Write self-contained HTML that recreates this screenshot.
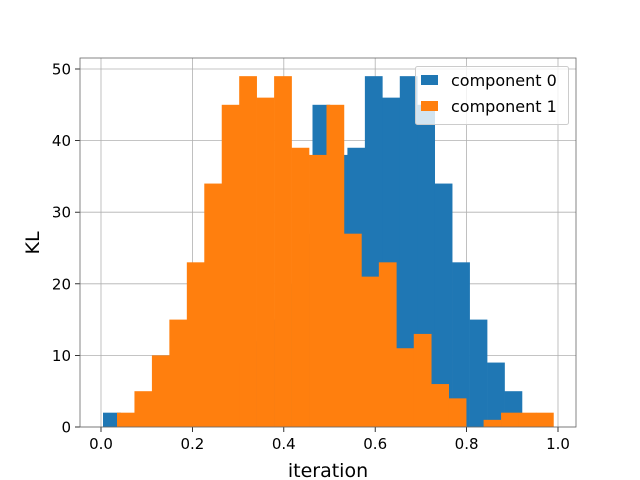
<!DOCTYPE html>
<html><head><meta charset="utf-8"><style>
body{margin:0;background:#fff}
svg{display:block;font-family:"DejaVu Sans","Liberation Sans",sans-serif}
</style></head><body>
<svg id="chart" width="640" height="480">
<rect width="640" height="480" fill="#fff"/>
<g id="grid"></g><g id="bars"></g><g id="axes"></g>
<text x="328" y="477" font-size="19" text-anchor="middle" fill="#000">iteration</text>
<text transform="translate(39,243) rotate(-90)" font-size="19" text-anchor="middle" fill="#000">KL</text>
<g>
<rect x="415.5" y="66.5" width="153" height="58" rx="2" fill="#fff" fill-opacity="0.8" stroke="#ccc"/>
<rect x="421" y="75" width="17" height="10" fill="#1f77b4"/>
<text x="451" y="86" font-size="16" fill="#000">component 0</text>
<rect x="421" y="101" width="17" height="10" fill="#ff7f0e"/>
<text x="451" y="112" font-size="16" fill="#000">component 1</text>
</g>
</svg>
<script>
const binWidth = 0.0382;
const comp0Start = 0.0044;
const comp0Counts = [2,0,1,2,3,5,7,9,12,15,20,27,45,38,39,49,46,49,45,34,23,15,9,5];
const comp1Start = 0.035;
const comp1Counts = [2,5,10,15,23,34,45,49,46,49,39,38,45,27,21,23,11,13,6,4,0,1,2,2,2];
const xTicks = [0,0.2,0.4,0.6,0.8,1.0];
const xTickLabels = ["0.0","0.2","0.4","0.6","0.8","1.0"];
const yTicks = [0,10,20,30,40,50];
const yTickLabels = ["0","10","20","30","40","50"];

const L=80,R=576,T=58,B=427;
const xs = v => 101 + v*457;
const ys = v => 427 - v*7.16;
const NS="http://www.w3.org/2000/svg";
function mk(tag,parent,attrs){const e=document.createElementNS(NS,tag);for(const k in attrs)e.setAttribute(k,attrs[k]);parent.appendChild(e);return e;}
const grid=document.getElementById('grid'),bars=document.getElementById('bars'),axes=document.getElementById('axes');
xTicks.forEach((t,i)=>{
  const g=mk('line',grid,{x1:xs(t),x2:xs(t),y1:T,y2:B,stroke:'#b0b0b0','stroke-width':0.8});
  
  
  const tk=mk('line',axes,{x1:xs(t),x2:xs(t),y1:B,y2:B+5,stroke:'#000','stroke-width':0.8});
  
  
  const tx=mk('text',axes,{x:xs(t),y:B+22,'font-size':15,'text-anchor':'middle',fill:'#000'});
  tx.textContent=xTickLabels[i];
  
  
});
yTicks.forEach((t,i)=>{
  const g=mk('line',grid,{x1:L,x2:R,y1:ys(t),y2:ys(t),stroke:'#b0b0b0','stroke-width':0.8});
  
  
  const tk=mk('line',axes,{x1:L-5,x2:L,y1:ys(t),y2:ys(t),stroke:'#000','stroke-width':0.8});
  
  
  const tx=mk('text',axes,{x:L-9,y:ys(t)+5.5,'font-size':15,'text-anchor':'end',fill:'#000'});
  tx.textContent=yTickLabels[i];
  
  
});
function drawHist(start,counts,color,name){
  counts.forEach((c,i)=>{
    if(!c)return;
    const x0=xs(start+i*binWidth),x1=xs(start+(i+1)*binWidth);
    const r=mk('rect',bars,{x:x0,y:ys(c),width:x1-x0+0.3,height:ys(0)-ys(c),fill:color});
    
    
  });
}
drawHist(comp0Start,comp0Counts,'#1f77b4','component-0');
drawHist(comp1Start,comp1Counts,'#ff7f0e','component-1');
const frame=mk('rect',axes,{x:L,y:T,width:R-L,height:B-T,fill:'none',stroke:'#666','stroke-width':0.8});


</script>
</body></html>
